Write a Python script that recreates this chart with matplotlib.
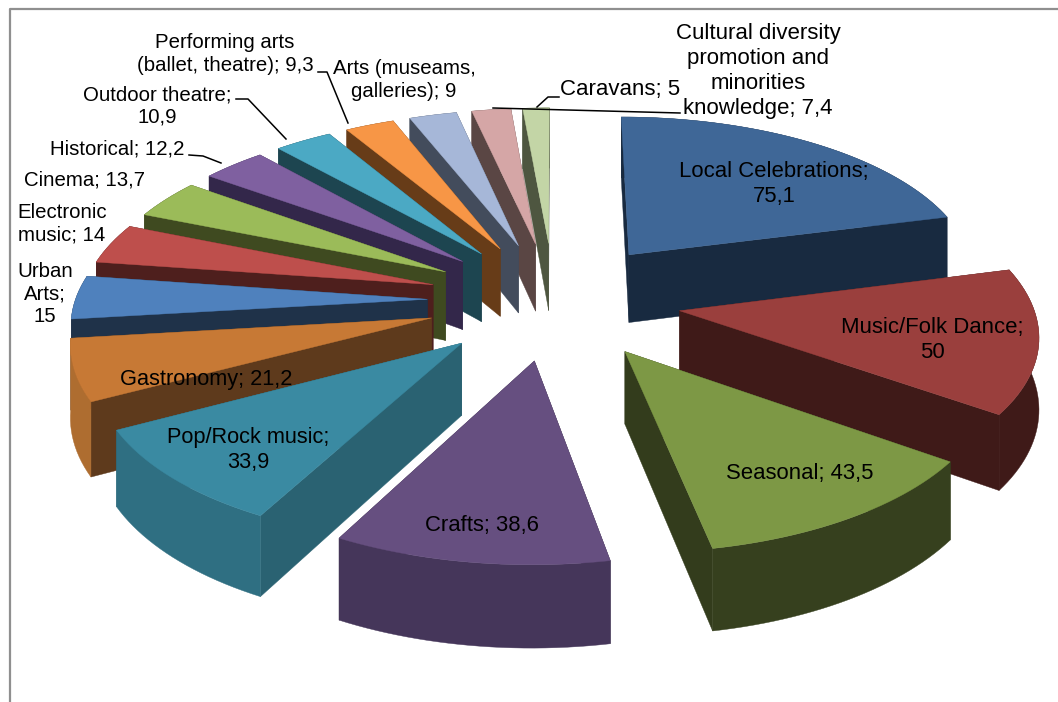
import numpy as np
import matplotlib
matplotlib.use("Agg")
import matplotlib.pyplot as plt
from matplotlib.patches import Polygon

plt.rcParams['font.family'] = ['Liberation Sans', 'DejaVu Sans']

categories = ["Local Celebrations", "Music/Folk Dance", "Seasonal", "Crafts", "Pop/Rock music",
              "Gastronomy", "Urban\nArts", "Electronic\nmusic", "Cinema", "Historical",
              "Outdoor theatre", "Performing arts\n(ballet, theatre)", "Arts (museams,\ngalleries)",
              "Cultural diversity\npromotion and\nminorities\nknowledge", "Caravans"]
values = [75.1, 50, 43.5, 38.6, 33.9, 21.2, 15, 14, 13.7, 12.2, 10.9, 9.3, 9, 7.4, 5]
separators = [";\n", ";\n", "; ", "; ", ";\n", "; ", ";\n", "; ", "; ", "; ", ";\n", "; ", "; ", "; ", "; "]
top_colors = ["#3F6797", "#9A3F3D", "#7D9845", "#664F80", "#3A8AA2", "#C77935", "#4F81BD", "#BE4F4C",
              "#9BBB59", "#7F60A0", "#4BA9C4", "#F79646", "#A6B7D8", "#D5A6A6", "#C3D5A6"]
side_colors = ["#182A40", "#3F1A18", "#333C1C", "#33283F", "#2A6272", "#5E3A1C", "#1F3249", "#4E1F1D",
               "#3F4A20", "#33274A", "#1D4550", "#673C18", "#434C5C", "#5A4644", "#4E5640"]
rim_colors = ["#182A40", "#3F1A18", "#36401E", "#45365A", "#2F6F82", "#AE6D30", "#1F3249", "#4E1F1D",
              "#3F4A20", "#33274A", "#1D4550", "#673C18", "#434C5C", "#5A4644", "#4E5640"]
label_xy = [(774, 184), (932, 340), (800, 473), (482, 525), (248, 450), (206, 380), (45, 294), (62, 224),
            (85, 180), (117, 149), (157, 106), (225, 54), (404, 80), (758, 71), (620, 90)]
label_sizes = [15.9, 15.9, 15.9, 15.9, 15.7, 15.7, 14.7, 14.7, 14.7, 14.7, 14.7, 14.7, 14.7, 16.0, 16.0]
leaders = {11: [(318, 72), (327, 72), (348, 123)],
           10: [(236, 99), (248, 99), (286, 139)],
           9: [(189, 155), (203, 156), (221, 163)],
           14: [(559, 97), (548, 97), (537, 107)],
           13: [(680, 113), (493, 108)]}

# Projection of the tilted, exploded pie
CX, CY, RX, RY, H, K, EXPLODE = 554, 300, 352, 164, 70, 0.118, 0.36


def project(X, Y, Z=0.0):
    s = 1.0 / (1.0 + K * np.asarray(Y))
    return CX + RX * np.asarray(X) * s, CY - RY * np.asarray(Y) * s + H * Z * s


fig = plt.figure(figsize=(10.58, 7.02), dpi=100)
ax = fig.add_axes([0, 0, 1, 1])
ax.set_xlim(0, 1058)
ax.set_ylim(702, 0)
ax.axis("off")
ax.plot([10, 10, 1058], [702, 9, 9], color="#8F8F8F", lw=1.6, zorder=1)

vals = np.array(values, dtype=float)
edges = np.concatenate([[0], np.cumsum(vals)]) / vals.sum() * 2 * np.pi
mids = (edges[:-1] + edges[1:]) / 2
order = np.argsort(-np.cos(mids))

z = 2
for i in order:
    ox, oy = EXPLODE * np.sin(mids[i]), EXPLODE * np.cos(mids[i])
    th = np.linspace(edges[i], edges[i + 1], max(int((edges[i + 1] - edges[i]) * 40), 6))
    wx, wy = ox + np.sin(th), oy + np.cos(th)
    for end in (0, -1):
        fx = np.array([ox, wx[end], wx[end], ox])
        fy = np.array([oy, wy[end], wy[end], oy])
        fz = np.array([0, 0, 1, 1])
        px, py = project(fx, fy, fz)
        ax.add_patch(Polygon(np.c_[px, py], fc=side_colors[i], ec=side_colors[i], lw=0.3, zorder=z))
        z += 1
    tx, ty = project(wx, wy, 0)
    bx, by = project(wx, wy, 1)
    ax.add_patch(Polygon(np.c_[np.r_[tx, bx[::-1]], np.r_[ty, by[::-1]]],
                         fc=rim_colors[i], ec=rim_colors[i], lw=0.3, zorder=z))
    z += 1
    ax0, ay0 = project(ox, oy, 0)
    ax.add_patch(Polygon(np.c_[np.r_[ax0, tx], np.r_[ay0, ty]],
                         fc=top_colors[i], ec=top_colors[i], lw=0.3, zorder=z))
    z += 1

for i, (cat, val, sep, xy, fs) in enumerate(zip(categories, values, separators, label_xy, label_sizes)):
    txt = f"{cat}{sep}{val}".replace(".", ",")
    ax.text(xy[0], xy[1], txt, ha="center", va="center", fontsize=fs, color="black",
            linespacing=1.25, zorder=500)

for pts in leaders.values():
    p = np.array(pts)
    ax.plot(p[:, 0], p[:, 1], color="black", lw=1.1, zorder=400)

fig.savefig("out.png", dpi=100, facecolor="white")
